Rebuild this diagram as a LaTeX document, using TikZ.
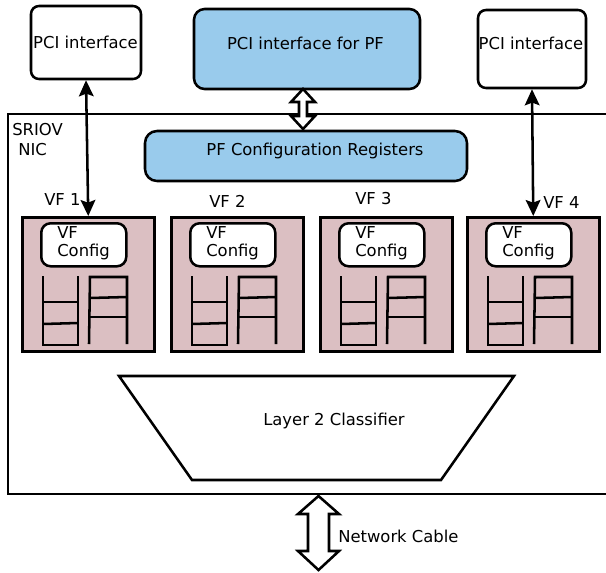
\documentclass[tikz,border=0pt]{standalone}
\usepackage{fontspec}
\setmainfont{DejaVu Sans}
\usetikzlibrary{arrows.meta,calc}
\definecolor{pfblue}{RGB}{153,203,236}
\definecolor{vfpink}{RGB}{219,191,194}
\tikzset{
  thick line/.style={line width=1.9pt},
  pcibox/.style={draw, thick line, rounded corners=6pt, inner sep=0pt},
  vfbox/.style={draw, thick line, fill=vfpink, inner sep=0pt, minimum width=132*0.75pt, minimum height=134*0.75pt},
  cfgbox/.style={draw, thick line, fill=white, rounded corners=7pt, inner sep=0pt, minimum width=85*0.75pt, minimum height=43*0.75pt},
  lbl/.style={inner sep=0pt, font=\fontsize{12.3}{14}\selectfont},
  link/.style={thick line, {Stealth[length=12pt,width=11pt,inset=2pt]}-{Stealth[length=12pt,width=11pt,inset=2pt]}},
  hollow/.style={thick line, fill=white, line join=miter},
  queues/.pic={
    \draw[thick line] (22,60) -- (22,129) -- (57,129) -- (57,60);
    \draw[thick line] (22,86) -- (57,86);
    \draw[thick line] (22,108) -- (57,107);
    \draw[thick line] (68,128) -- (69,61) -- (106,61) -- (106,128);
    \draw[thick line] (69,82) -- (106,81);
    \draw[thick line] (69,101) -- (106,101);
  }
}
\begin{document}
\begin{tikzpicture}[x=0.75pt,y=-0.75pt]
\useasboundingbox (0,0) rectangle (606,572);
% NIC frame
\draw[thick line] (606,114) -- (8,114) -- (8,494) -- (606,494);
\node[lbl, anchor=west] (sriov) at (12,130) {SRIOV};
\node[lbl, anchor=west] (nic) at (18,150) {NIC};
% top boxes
\node[pcibox, minimum width=110*0.75pt, minimum height=73*0.75pt] (pcil) at (86,42.5) {};
\node[lbl] (pcilt) at (85.5,42) {PCI interface};
\node[pcibox, fill=pfblue, rounded corners=8pt, minimum width=226*0.75pt, minimum height=80*0.75pt] (pcipf) at (307,49) {};
\node[lbl] (pcipft) at (305.5,43) {PCI interface for PF};
\node[pcibox, minimum width=108*0.75pt, minimum height=78*0.75pt] (pcir) at (532,49) {};
\node[lbl] (pcirt) at (531,43) {PCI interface};
% PF config registers
\node[pcibox, fill=pfblue, rounded corners=9pt, minimum width=322*0.75pt, minimum height=50*0.75pt] (pfreg) at (306,156) {};
\node[lbl] (pfregt) at (315,151) {PF Configuration Registers};
% VF boxes
\foreach \i/\x/\lx/\ly in {1/21/44/200, 2/170/209/201, 3/319/355/199, 4/466/543/203}{
  \node[vfbox, anchor=north west] (vf\i) at (\x,216) {};
  \node[cfgbox, anchor=north west] (cfg\i) at (\x+19,222) {};
  \node[lbl, anchor=west] (cfgvf\i) at (\x+36,233) {VF};
  \node[lbl, anchor=west] (cfgc\i) at (\x+36,252) {Config};
  \pic at (\x,216) {queues};
  \node[lbl, anchor=west] (vfl\i) at (\lx,\ly) {VF \i};
}
% arrows
\draw[link] (pcil.south) -- (vf1.north);
\draw[link] (pcir.south) -- (vf4.north);
% PF hollow double arrow
\coordinate (pfa) at (303,89);
\draw[hollow] (pfa) -- ++(12,13) -- ++(-8,0) -- ++(0,14) -- ++(8,0) -- ++(-12,13) -- ++(-12,-13) -- ++(8,0) -- ++(0,-14) -- ++(-8,0) -- cycle;
% classifier
\draw[thick line] (119,376) -- (514,376) -- (441,480) -- (192,480) -- cycle;
\node[lbl] (l2c) at (334,421) {Layer 2 Classifier};
% network cable
\coordinate (nca) at (318.5,496);
\draw[hollow] (nca) -- ++(20.5,18) -- ++(-10,0) -- ++(0,37) -- ++(10,0) -- ++(-20.5,19) -- ++(-20.5,-19) -- ++(10,0) -- ++(0,-37) -- ++(-10,0) -- cycle;
\node[lbl, anchor=west] (ncl) at (338,536) {Network Cable};
\end{tikzpicture}
\end{document}
